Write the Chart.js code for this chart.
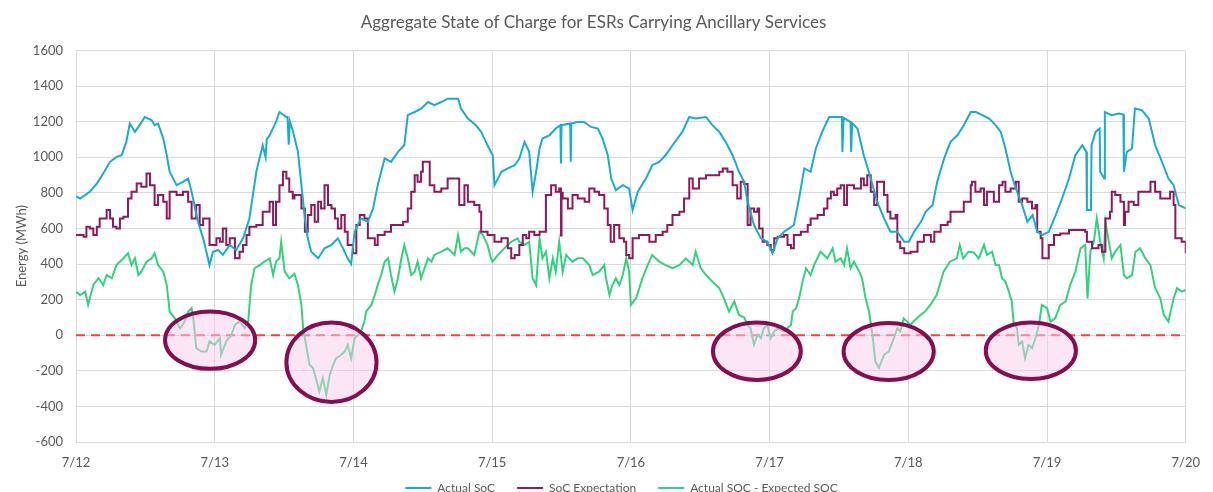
<!DOCTYPE html>
<html>
<head>
<meta charset="utf-8">
<script src="https://cdn.jsdelivr.net/npm/chart.js@4.4.1/dist/chart.umd.min.js"></script>
<style>
  html, body { margin: 0; padding: 0; background: #fff; }
</style>
</head>
<body>
<canvas id="aggSoc" width="1213" height="492"></canvas>
<script>
// tick labels, one per day (x axis runs in hours from 7/12 00:00)
const dayLabels = ['7/12', '7/13', '7/14', '7/15', '7/16', '7/17', '7/18', '7/19', '7/20'];

// Actual SoC (MWh)
const actualHours = [0, 0.7, 2.4, 3.6, 4.7, 5.9, 7.0, 7.9, 8.7, 9.3, 10.2, 11.0, 11.9, 13.1, 13.6, 14.2, 15.1, 15.7, 16.2, 17.4, 18.5, 19.4, 20.0, 21.1, 22.0, 23.1, 23.7, 24.6, 25.4, 26.6, 27.7, 28.9, 30.0, 31.2, 32.3, 32.8, 33.0, 33.5, 34.6, 35.2, 36.4, 36.6, 36.8, 37.0, 37.5, 38.4, 39.0, 39.6, 40.1, 40.7, 41.9, 43.0, 44.2, 45.3, 46.2, 47.0, 47.6, 48.2, 49.3, 50.5, 51.4, 52.2, 53.4, 54.5, 55.7, 56.8, 57.4, 58.6, 59.7, 60.9, 62.0, 63.2, 64.3, 66.1, 66.6, 67.8, 69.2, 70.1, 71.2, 72.1, 72.4, 73.6, 74.7, 75.9, 76.7, 77.6, 78.4, 79.0, 79.6, 80.2, 80.7, 81.9, 83.0, 83.8, 83.9, 84.0, 85.5, 85.6, 85.7, 86.8, 87.9, 89.1, 90.3, 91.1, 92.0, 92.6, 93.4, 94.6, 95.7, 96.3, 97.2, 98.6, 99.7, 100.9, 102.0, 103.2, 104.9, 106.1, 107.2, 109.0, 110.1, 111.3, 112.4, 113.6, 114.7, 115.6, 116.2, 117.3, 118.5, 119.6, 120.5, 121.4, 122.5, 123.4, 124.2, 125.1, 126.0, 127.1, 128.0, 129.1, 130.3, 131.7, 132.5, 132.6, 132.8, 134.0, 134.1, 134.3, 135.2, 136.3, 137.5, 138.6, 139.8, 140.9, 142.1, 143.3, 144.1, 145.0, 146.2, 147.0, 148.2, 149.0, 150.2, 151.3, 152.5, 153.6, 154.8, 155.7, 156.8, 158.0, 159.1, 160.0, 160.8, 161.7, 162.6, 163.7, 164.6, 165.5, 166.3, 167.2, 168.3, 169.5, 170.6, 171.8, 172.9, 174.1, 174.8, 174.9, 175.6, 175.7, 176.4, 177.1, 177.2, 177.9, 178.0, 179.2, 180.4, 181.2, 181.3, 181.8, 182.7, 183.2, 184.4, 185.6, 186.7, 187.9, 189.0, 189.9, 190.8, 192];
const actualSoc = [780, 768, 806, 852, 908, 974, 1002, 1011, 1086, 1189, 1142, 1180, 1226, 1207, 1180, 1189, 1105, 1011, 918, 843, 862, 880, 806, 637, 544, 394, 469, 479, 451, 507, 479, 544, 656, 918, 1067, 1000, 1100, 1123, 1198, 1254, 1226, 1226, 1070, 1200, 1150, 1030, 843, 656, 544, 469, 432, 488, 507, 544, 488, 432, 400, 581, 656, 637, 712, 843, 993, 974, 1030, 1067, 1236, 1254, 1273, 1310, 1292, 1310, 1329, 1329, 1273, 1217, 1180, 1142, 1067, 1011, 843, 918, 937, 955, 993, 1086, 1030, 806, 918, 1049, 1105, 1123, 1161, 1180, 965, 1180, 1189, 975, 1189, 1198, 1198, 1170, 1161, 1105, 1011, 880, 815, 843, 824, 703, 806, 880, 955, 974, 1011, 1067, 1142, 1226, 1217, 1226, 1180, 1142, 1086, 1011, 918, 862, 750, 619, 544, 525, 460, 544, 581, 600, 619, 768, 937, 918, 1049, 1142, 1226, 1226, 1226, 1030, 1220, 1198, 1030, 1190, 1161, 1011, 880, 750, 656, 581, 581, 525, 525, 581, 637, 693, 731, 862, 993, 1086, 1123, 1180, 1254, 1254, 1236, 1217, 1180, 1142, 1049, 918, 824, 731, 637, 675, 581, 563, 581, 675, 768, 880, 1011, 1067, 1030, 703, 703, 1067, 1142, 1161, 918, 880, 1254, 1236, 1245, 1240, 918, 1030, 1049, 1273, 1264, 1217, 1067, 974, 880, 843, 731, 712];

// SoC Expectation (MWh)
const expectedHours = [0, 1.3, 1.8, 2.4, 3.0, 3.6, 4.1, 4.7, 5.3, 5.9, 6.4, 7.0, 7.6, 8.2, 9.0, 9.6, 10.5, 11.3, 12.2, 12.8, 13.6, 14.2, 15.1, 15.7, 16.2, 17.4, 18.5, 19.4, 20.0, 20.8, 21.4, 22.0, 23.1, 24.3, 24.9, 25.4, 26.0, 26.6, 27.5, 28.3, 28.9, 29.5, 30.0, 31.2, 32.3, 33.5, 34.1, 34.6, 35.2, 35.8, 36.4, 36.9, 37.5, 37.8, 39.0, 39.6, 40.1, 40.7, 41.3, 41.9, 42.4, 43.0, 43.6, 44.2, 44.8, 45.3, 45.9, 46.5, 47.0, 47.9, 48.5, 49.1, 49.9, 50.5, 51.7, 52.2, 53.4, 54.5, 55.7, 56.6, 57.4, 58.0, 58.6, 59.1, 59.7, 60.0, 60.6, 61.2, 62.0, 63.2, 64.3, 65.5, 66.3, 67.2, 67.8, 68.9, 69.8, 70.1, 71.2, 72.4, 73.6, 74.7, 75.3, 75.9, 76.7, 77.3, 77.9, 78.4, 79.3, 80.2, 81.0, 81.3, 82.2, 83.0, 83.6, 83.9, 84.0, 84.2, 85.1, 85.9, 86.8, 88.0, 88.8, 89.7, 90.5, 91.4, 92.0, 92.5, 93.1, 94.0, 94.8, 95.2, 95.7, 96.3, 97.4, 98.3, 99.2, 100.3, 101.5, 102.3, 103.2, 104.4, 105.2, 106.1, 106.7, 107.8, 109.0, 110.1, 111.3, 111.9, 112.7, 113.6, 114.4, 115.0, 115.6, 116.2, 116.7, 117.3, 117.9, 118.2, 118.8, 119.6, 120.2, 120.8, 121.4, 122.5, 123.1, 123.7, 124.2, 125.4, 126.6, 127.1, 128.3, 129.4, 130.0, 130.6, 131.1, 131.7, 132.3, 132.9, 133.4, 134.6, 135.8, 136.3, 136.9, 137.5, 138.1, 138.6, 139.8, 140.4, 140.9, 141.8, 142.1, 142.6, 143.3, 144.4, 145.6, 146.7, 147.9, 148.5, 149.6, 150.8, 151.3, 152.5, 153.6, 154.8, 155.0, 155.6, 156.5, 157.1, 157.6, 158.8, 159.7, 160.3, 160.8, 161.7, 162.6, 163.1, 163.7, 164.6, 165.4, 166.0, 166.3, 166.9, 167.2, 168.0, 168.3, 169.2, 170.3, 171.8, 172.9, 174.6, 174.9, 175.8, 176.9, 177.5, 178.1, 178.9, 179.2, 179.8, 180.7, 181.3, 181.5, 182.1, 183.0, 183.8, 185.0, 185.9, 186.7, 187.6, 188.5, 189.3, 189.9, 190.2, 191.3, 192];
const expectedSoc = [563, 553, 609, 600, 563, 609, 656, 656, 703, 656, 609, 600, 656, 665, 768, 806, 852, 834, 908, 843, 731, 787, 750, 656, 806, 787, 806, 750, 656, 731, 619, 656, 507, 544, 525, 600, 507, 544, 432, 469, 507, 563, 609, 619, 693, 750, 619, 750, 843, 918, 880, 806, 768, 787, 712, 581, 675, 731, 637, 750, 712, 843, 731, 712, 656, 600, 675, 581, 507, 460, 619, 675, 656, 544, 507, 563, 581, 619, 619, 637, 712, 806, 899, 862, 918, 974, 974, 843, 806, 824, 880, 880, 731, 843, 750, 731, 693, 581, 563, 525, 544, 488, 432, 451, 507, 563, 544, 581, 563, 581, 581, 787, 843, 806, 824, 560, 800, 768, 712, 787, 768, 750, 824, 806, 787, 712, 619, 525, 619, 544, 525, 451, 432, 544, 563, 563, 525, 563, 581, 619, 675, 693, 768, 880, 824, 880, 899, 899, 918, 937, 918, 843, 768, 862, 850, 619, 712, 693, 712, 600, 525, 507, 479, 544, 553, 563, 507, 488, 563, 581, 619, 656, 675, 712, 768, 806, 787, 824, 843, 731, 843, 824, 880, 843, 899, 806, 731, 862, 787, 693, 656, 675, 525, 488, 460, 469, 525, 563, 525, 581, 619, 637, 693, 693, 750, 843, 862, 806, 824, 731, 806, 750, 843, 862, 806, 824, 862, 750, 768, 750, 712, 731, 581, 544, 432, 432, 507, 563, 572, 591, 591, 581, 525, 488, 507, 469, 656, 693, 806, 787, 750, 619, 693, 750, 731, 806, 806, 862, 806, 768, 768, 806, 731, 544, 525, 460];

// Actual SOC - Expected SOC (MWh)
const diffHours = [0, 0.7, 1.6, 2.1, 3.0, 3.9, 4.7, 5.3, 6.2, 7.0, 8.2, 9.0, 9.6, 10.2, 10.8, 11.3, 12.2, 13.1, 13.6, 14.2, 15.1, 15.7, 16.2, 17.1, 18.0, 18.8, 19.4, 20.0, 20.3, 20.8, 21.7, 22.6, 23.1, 24.0, 24.9, 25.1, 26.0, 26.9, 27.5, 28.3, 29.2, 29.8, 30.3, 30.9, 31.8, 32.6, 33.5, 34.1, 34.6, 35.2, 35.5, 36.1, 36.9, 37.8, 38.4, 39.0, 39.3, 39.8, 40.4, 41.0, 41.5, 42.1, 42.7, 43.3, 43.9, 44.5, 45.0, 45.9, 46.5, 47.0, 47.6, 48.2, 48.8, 49.3, 49.9, 50.2, 51.1, 51.7, 52.2, 52.8, 53.4, 54.0, 54.5, 55.1, 55.7, 56.3, 56.8, 57.4, 58.0, 58.6, 59.1, 59.7, 60.3, 60.9, 61.5, 62.0, 63.2, 64.3, 65.5, 66.1, 66.6, 67.2, 67.8, 68.9, 69.8, 70.4, 71.2, 71.8, 72.1, 73.0, 74.1, 75.3, 76.4, 76.7, 77.6, 78.4, 79.0, 79.6, 80.2, 80.7, 81.3, 81.9, 82.5, 83.0, 83.6, 84.2, 84.8, 85.3, 85.9, 86.8, 87.7, 88.8, 89.4, 90.5, 91.4, 91.7, 92.3, 92.8, 93.4, 94.0, 94.6, 95.2, 95.7, 96.0, 96.9, 98.0, 98.9, 99.7, 100.9, 102.0, 103.2, 104.4, 105.5, 106.7, 107.2, 108.1, 109.0, 110.1, 111.3, 112.1, 113.0, 113.9, 114.7, 115.6, 116.2, 116.7, 117.3, 117.9, 118.5, 119.0, 119.6, 120.2, 120.8, 121.4, 122.5, 123.7, 124.0, 124.6, 125.1, 125.7, 126.3, 127.1, 127.7, 128.8, 130.0, 130.9, 131.4, 132.3, 132.9, 133.4, 134.0, 134.6, 135.5, 136.0, 136.6, 137.2, 137.8, 138.3, 138.9, 139.8, 140.6, 141.5, 142.1, 142.6, 143.2, 144.4, 144.9, 146.1, 146.9, 147.8, 148.9, 150.1, 151.2, 152.4, 152.9, 153.5, 154.4, 155.3, 156.2, 157.1, 157.6, 158.5, 159.1, 159.7, 160.2, 160.8, 161.4, 161.9, 162.2, 162.8, 163.1, 163.7, 164.2, 164.8, 165.4, 166.0, 166.6, 167.1, 168.0, 168.6, 169.4, 170.3, 171.2, 172.0, 172.9, 173.8, 174.6, 175.0, 175.5, 176.1, 176.6, 177.2, 177.8, 178.1, 178.7, 179.2, 179.8, 180.7, 181.3, 181.8, 182.7, 183.3, 184.1, 185.0, 185.9, 186.7, 187.6, 188.2, 189.0, 189.9, 190.5, 191.3, 192];
const diffSoc = [245, 226, 245, 170, 282, 320, 282, 338, 320, 394, 432, 460, 394, 432, 338, 357, 413, 432, 460, 394, 357, 282, 133, 95, 39, 77, 133, 152, 95, -73, -92, -92, -35, -54, -17, -110, -35, 2, 58, 77, 39, 77, 282, 376, 394, 413, 432, 338, 413, 432, 525, 357, 320, 345, 282, 170, 39, -54, -166, -185, -241, -316, -241, -335, -222, -166, -129, -110, -92, -54, -129, -17, 2, 21, 77, 133, 170, 226, 282, 338, 413, 432, 338, 245, 320, 432, 507, 432, 338, 357, 413, 320, 376, 432, 413, 451, 469, 488, 451, 563, 469, 488, 488, 451, 581, 563, 507, 432, 413, 451, 488, 525, 544, 525, 507, 525, 320, 282, 544, 432, 469, 320, 432, 357, 525, 357, 451, 432, 413, 432, 432, 394, 338, 357, 394, 320, 226, 282, 320, 282, 338, 432, 357, 170, 207, 320, 394, 451, 413, 394, 376, 394, 432, 394, 469, 376, 338, 301, 264, 207, 133, 189, 114, 100, 58, 39, -54, 2, -17, 39, 58, -17, 21, 39, 21, 58, 133, 152, 207, 301, 376, 338, 394, 469, 432, 488, 413, 432, 394, 488, 376, 413, 357, 320, 207, 133, 2, -148, -185, -110, -92, -17, 39, 21, 95, 58, 77, 114, 133, 170, 226, 357, 413, 432, 507, 432, 469, 465, 432, 507, 451, 469, 394, 394, 320, 301, 245, 189, 77, 39, -54, -35, -129, -54, -73, -17, 58, 170, 152, 77, 95, 170, 189, 282, 357, 488, 507, 207, 469, 525, 656, 525, 432, 637, 525, 432, 469, 507, 338, 320, 338, 469, 488, 432, 394, 264, 207, 114, 77, 207, 264, 245, 254];

const zeroLevel = 0;

const toPoints = (hours, values) => hours.map((h, i) => ({ x: h, y: values[i] }));

const textGrey = '#595959';
const fontFamily = 'Lato, "Open Sans", sans-serif';

// circled shortfall periods (data units: hours / MWh)
const shortfalls = [
  { h: 23.2, v: -28, dh: 7.8, dv: 161 },
  { h: 44.2, v: -152, dh: 7.8, dv: 223 },
  { h: 117.8, v: -90, dh: 7.6, dv: 161 },
  { h: 140.6, v: -92, dh: 7.8, dv: 160 },
  { h: 165.2, v: -87, dh: 7.8, dv: 159 },
];

const ellipsePlugin = {
  id: 'shortfallEllipses',
  afterDatasetsDraw(chart) {
    const { ctx, scales: { x, y } } = chart;
    ctx.save();
    shortfalls.forEach((s) => {
      const cx = x.getPixelForValue(s.h);
      const cy = y.getPixelForValue(s.v);
      const rx = x.getPixelForValue(s.h + s.dh) - cx;
      const ry = cy - y.getPixelForValue(s.v + s.dv);
      ctx.beginPath();
      ctx.ellipse(cx, cy, rx, ry, 0, 0, Math.PI * 2);
      ctx.fillStyle = 'rgba(250, 205, 235, 0.5)';
      ctx.fill();
      ctx.lineWidth = 4;
      ctx.strokeStyle = '#860d52';
      ctx.stroke();
    });
    ctx.restore();
  },
};

// legend sits a bit right of centre and tucked close under the axis labels
const legendNudge = {
  id: 'legendNudge',
  afterLayout(chart) {
    const lg = chart.legend;
    lg.left += 28;
    lg.right += 28;
    lg.top -= 17;
    lg.bottom -= 17;
  },
};

const ctx = document.getElementById('aggSoc');
new Chart(ctx, {
  type: 'line',
  data: {
    datasets: [
      {
        label: 'Actual SoC',
        data: toPoints(actualHours, actualSoc),
        borderColor: '#1aaccb',
        backgroundColor: '#1aaccb',
        borderWidth: 2,
        pointRadius: 0,
      },
      {
        label: 'SoC Expectation',
        data: toPoints(expectedHours, expectedSoc),
        borderColor: '#8c1a5c',
        backgroundColor: '#8c1a5c',
        borderWidth: 2,
        pointRadius: 0,
        stepped: true,
      },
      {
        label: 'Actual SOC - Expected SOC',
        data: toPoints(diffHours, diffSoc),
        borderColor: '#33d17f',
        backgroundColor: '#33d17f',
        borderWidth: 2,
        pointRadius: 0,
      },
      {
        label: 'zero',
        data: [{ x: 0, y: zeroLevel }, { x: 192, y: zeroLevel }],
        borderColor: '#ff3d3d',
        borderWidth: 2,
        borderDash: [9, 6],
        pointRadius: 0,
      },
    ],
  },
  options: {
    responsive: false,
    animation: false,
    layout: { padding: { left: 0, right: 26, top: 0, bottom: -29 } },
    scales: {
      x: {
        type: 'linear',
        min: 0,
        max: 192,
        grid: { color: '#d9d9d9', drawTicks: false },
        border: { color: '#d9d9d9' },
        ticks: {
          stepSize: 24,
          autoSkip: false,
          maxRotation: 0,
          padding: 13,
          color: textGrey,
          font: { family: fontFamily, size: 13 },
          callback: (v) => dayLabels[Math.round(v / 24)],
        },
        afterFit: (scale) => { scale.height = 35; },
      },
      y: {
        min: -600,
        max: 1600,
        grid: { color: '#d9d9d9', drawTicks: false },
        border: { color: '#d9d9d9' },
        ticks: {
          stepSize: 200,
          padding: 13,
          color: textGrey,
          font: { family: fontFamily, size: 13 },
          callback: (v) => String(v),
        },
        title: {
          display: true,
          text: 'Energy (MWh)',
          color: textGrey,
          font: { family: fontFamily, size: 13 },
          padding: { top: 14, bottom: 0 },
        },
        afterFit: (scale) => { scale.width = 76; },
      },
    },
    plugins: {
      title: {
        display: true,
        text: 'Aggregate State of Charge for ESRs Carrying Ancillary Services',
        color: textGrey,
        font: { family: fontFamily, size: 17, weight: 'normal' },
        padding: { top: 12, bottom: 18 },
      },
      legend: {
        position: 'bottom',
        labels: {
          usePointStyle: true,
          pointStyle: 'line',
          pointStyleWidth: 26,
          padding: 22,
          color: textGrey,
          font: { family: fontFamily, size: 12 },
          filter: (item) => item.datasetIndex < 3,
        },
      },
      tooltip: { enabled: false },
    },
  },
  plugins: [ellipsePlugin, legendNudge],
});
</script>
</body>
</html>
